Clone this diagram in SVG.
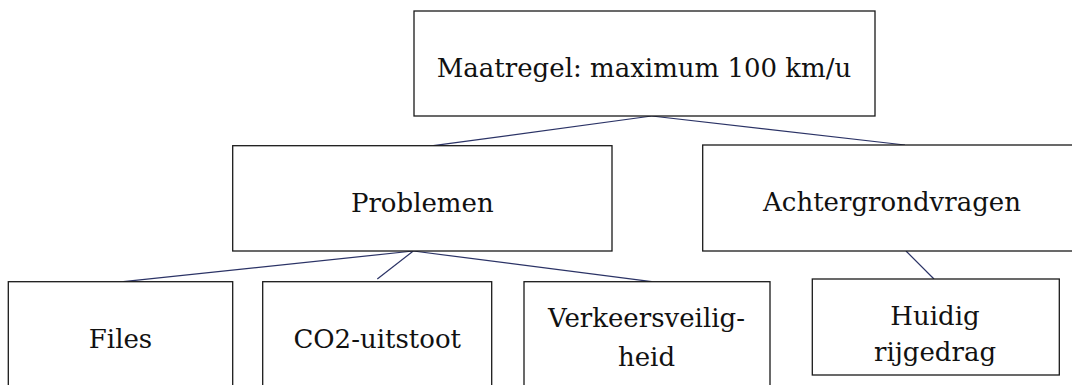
<svg xmlns="http://www.w3.org/2000/svg" width="1072" height="385" viewBox="0 0 1072 385">
<style>
.box{fill:#fff;stroke:#1a1a1a;stroke-width:1.3}
.lbl{font-family:"DejaVu Serif","Liberation Serif",serif;font-size:26px;fill:#111;text-anchor:middle}
.con{stroke:#2b3366;stroke-width:1.2;fill:none}
</style>
<rect width="1072" height="385" fill="#fff"/>
<g id="connectors">
<line class="con" x1="651.7" y1="116" x2="433.3" y2="145.7"/>
<line class="con" x1="651.7" y1="116" x2="905" y2="145"/>
<line class="con" x1="413.3" y1="251" x2="123.3" y2="281.7"/>
<line class="con" x1="413.3" y1="251" x2="377.3" y2="279"/>
<line class="con" x1="413.3" y1="251" x2="651.7" y2="281.7"/>
<line class="con" x1="906" y1="251" x2="934" y2="279"/>
</g>
<g id="node-maatregel">
<rect class="box" x="414" y="11" width="461" height="105"/>
<text class="lbl" x="644" y="77">Maatregel: maximum 100 km/u</text>
</g>
<g id="node-problemen">
<rect class="box" x="232.7" y="145.7" width="379.3" height="105.3"/>
<text class="lbl" x="422.3" y="212">Problemen</text>
</g>
<g id="node-achtergrondvragen">
<rect class="box" x="702.7" y="145" width="378" height="106"/>
<text class="lbl" x="892" y="211">Achtergrondvragen</text>
</g>
<g id="node-files">
<rect class="box" x="8.3" y="281.7" width="224.4" height="150"/>
<text class="lbl" x="120.5" y="347.5">Files</text>
</g>
<g id="node-co2">
<rect class="box" x="262.7" y="281.7" width="229" height="150"/>
<text class="lbl" x="377.2" y="347.5">CO2-uitstoot</text>
</g>
<g id="node-verkeersveiligheid">
<rect class="box" x="524" y="281.7" width="246" height="150"/>
<text class="lbl" x="646.5" y="327">Verkeersveilig-</text>
<text class="lbl" x="646.5" y="366">heid</text>
</g>
<g id="node-huidig">
<rect class="box" x="812.3" y="279" width="247" height="96"/>
<text class="lbl" x="935" y="325">Huidig</text>
<text class="lbl" x="935" y="361">rijgedrag</text>
</g>
</svg>
